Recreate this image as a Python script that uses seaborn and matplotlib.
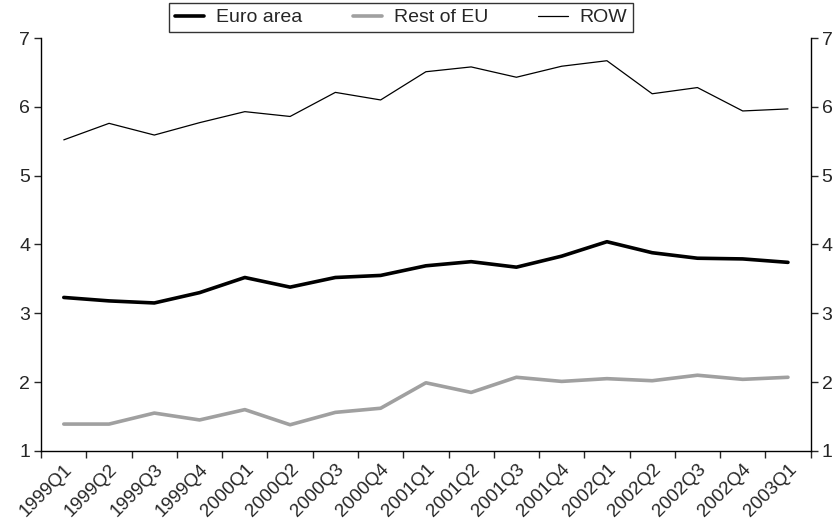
import matplotlib
matplotlib.use("Agg")
import matplotlib.pyplot as plt
import numpy as np
import pandas as pd
import seaborn as sns

quarters = ["1999Q1", "1999Q2", "1999Q3", "1999Q4", "2000Q1", "2000Q2", "2000Q3", "2000Q4",
            "2001Q1", "2001Q2", "2001Q3", "2001Q4", "2002Q1", "2002Q2", "2002Q3", "2002Q4", "2003Q1"]
euro_area = [3.23, 3.18, 3.15, 3.30, 3.52, 3.38, 3.52, 3.55, 3.69, 3.75, 3.67, 3.83, 4.04, 3.88, 3.80, 3.79, 3.74]
rest_eu = [1.39, 1.39, 1.55, 1.45, 1.60, 1.38, 1.56, 1.62, 1.99, 1.85, 2.07, 2.01, 2.05, 2.02, 2.10, 2.04, 2.07]
row = [5.52, 5.76, 5.59, 5.77, 5.93, 5.86, 6.21, 6.10, 6.51, 6.58, 6.43, 6.59, 6.67, 6.19, 6.28, 5.94, 5.97]

df = pd.DataFrame({"quarter": quarters * 3,
                   "value": euro_area + rest_eu + row,
                   "series": ["Euro area"] * 17 + ["Rest of EU"] * 17 + ["ROW"] * 17})

sns.set_style("white")
plt.rcParams["font.family"] = ["Liberation Sans Narrow", "Liberation Sans", "DejaVu Sans"]

fig = plt.figure(figsize=(8.4, 5.28), dpi=100)
ax = fig.add_axes([0.049, 0.146, 0.916, 0.782])

sns.lineplot(data=df, x="quarter", y="value", hue="series", size="series",
             palette={"Euro area": "black", "Rest of EU": "#a0a0a0", "ROW": "black"},
             sizes={"Euro area": 2.6, "Rest of EU": 2.6, "ROW": 0.9},
             ax=ax, sort=False)

ax.set_xlim(-0.5, 16.5)
ax.set_ylim(1, 7)
ax.set_xlabel("")
ax.set_ylabel("")

ax.set_xticks(range(17))
ax.set_xticklabels(quarters, rotation=45, ha="right", rotation_mode="anchor", fontsize=13.5)
ax.set_xticks(np.arange(-0.5, 17, 1), minor=True)
ax.tick_params(axis="x", which="major", length=0, pad=7)
ax.tick_params(axis="x", which="minor", length=5, width=1, direction="out", bottom=True)
ax.set_yticks(range(1, 8))
ax.tick_params(axis="y", length=5, width=1, direction="out", left=True, right=True,
               labelright=True, labelsize=14, pad=3)

ax.spines["top"].set_visible(False)
for s in ["left", "right", "bottom"]:
    ax.spines[s].set_color("black")
    ax.spines[s].set_linewidth(1)

leg = ax.legend(loc="upper center", bbox_to_anchor=(401 / 840, 1 - 3 / 528),
                bbox_transform=fig.transFigure, ncol=3, frameon=True, fancybox=False,
                fontsize=14, handlelength=1.5, columnspacing=2.6, borderpad=0.3,
                handletextpad=0.6, borderaxespad=0)
leg._legend_box.sep = 0
leg.get_frame().set_edgecolor("black")
leg.get_frame().set_linewidth(1)
for t in leg.get_texts():
    t.set_x(0)
leg._legend_box.align = "center"
leg.borderpad = 0.3

fig.savefig("out.png", dpi=100)
